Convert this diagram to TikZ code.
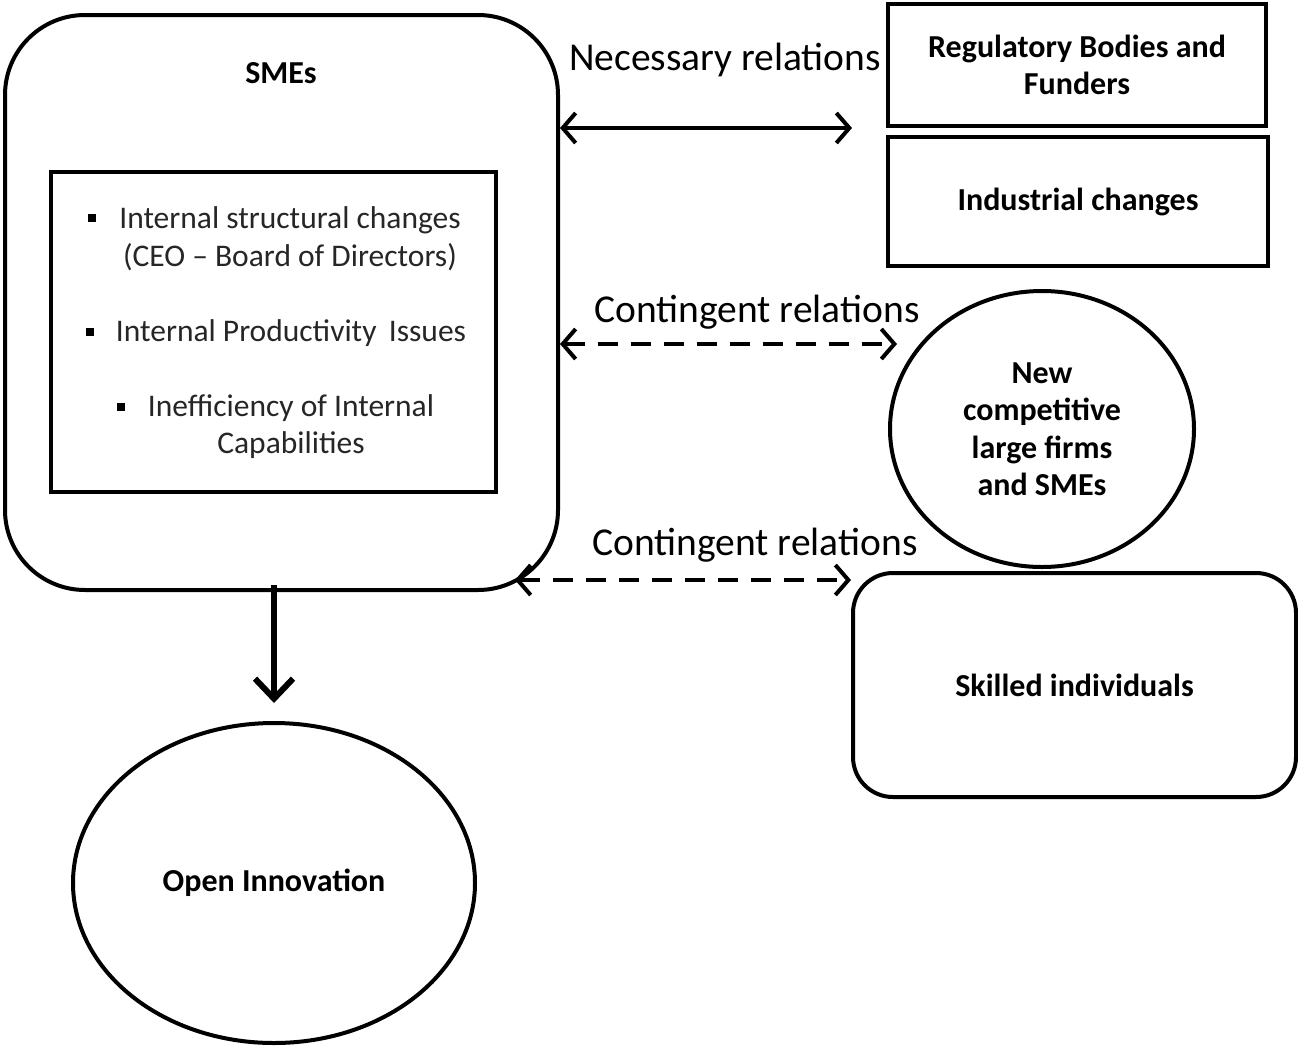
\documentclass[tikz,border=0pt]{standalone}
\usepackage{fontspec}
\setmainfont{Carlito}
\usetikzlibrary{arrows.meta,shapes.geometric}
\begin{document}
\begin{tikzpicture}[x=1pt,y=-1pt,
  frame/.style={draw=black,line width=4pt},
  lbl/.style={font=\fontsize{39.5}{44}\selectfont,inner sep=0pt},
  boxtxt/.style={font=\fontsize{32}{37.5}\selectfont\bfseries,align=center,inner sep=0pt},
  itemtxt/.style={font=\fontsize{31.5}{36}\selectfont,inner sep=0pt,text=black!85},
  bul/.style={fill=black,inner sep=0pt,minimum size=8pt},
  rel/.style={line width=4pt,{Straight Barb[length=13pt,width=30pt]}-{Straight Barb[length=13pt,width=30pt]}},
  dsh/.style={dash pattern=on 20pt off 13pt}
]
\useasboundingbox (0,0) rectangle (1298,1047);
\fill[white] (0,0) rectangle (1298,1047);

% SMEs container
\node[frame,rounded corners=80pt,minimum width=553pt,minimum height=575pt] (smes) at (281.5,302.5) {};
\node[boxtxt] (smesT) at (281,73) {SMEs};
\node[frame,minimum width=445pt,minimum height=320pt] (inner) at (273.5,332) {};

\node[bul] (b1) at (92,218) {};
\node[itemtxt] (t1a) at (290,220) {Internal structural changes};
\node[itemtxt] (t1b) at (290,257) {(CEO -- Board of Directors)};
\node[bul] (b2) at (90,332) {};
\node[itemtxt] (t2) at (291,333) {Internal Productivity\, Issues};
\node[bul] (b3) at (121,407) {};
\node[itemtxt] (t3a) at (291,408) {Inefficiency of Internal};
\node[itemtxt] (t3b) at (291,445) {Capabilities};

% right side boxes
\node[frame,minimum width=378pt,minimum height=122pt,boxtxt] (reg) at (1077,65) {Regulatory Bodies and\\Funders};
\node[frame,minimum width=380pt,minimum height=129pt,boxtxt] (ind) at (1078,201.5) {Industrial changes};
\node[frame,ellipse,minimum width=304pt,minimum height=276pt,boxtxt] (comp) at (1042,429) {New\\competitive\\large firms\\and SMEs};
\node[frame,rounded corners=40pt,minimum width=443pt,minimum height=224pt,boxtxt] (skill) at (1074.5,685) {Skilled individuals};

% Open innovation
\node[frame,ellipse,minimum width=402pt,minimum height=320pt,boxtxt] (open) at (274,883) {Open Innovation};

% relation labels
\node[lbl] (nec) at (725,60) {Necessary relations};
\node[lbl] (con1) at (757,312) {Contingent relations};
\node[lbl] (con2) at (755,545) {Contingent relations};

% connectors
\coordinate (necE) at (852,128);
\draw[rel] (smes.east |- necE) -- (necE);
\coordinate (c1E) at (897,344);
\draw[rel,dsh] (smes.east |- c1E) -- (c1E);
\coordinate (c2S) at (515,580);
\draw[rel,dsh] (c2S) -- (skill.west |- c2S);
\coordinate (downS) at (274,585);
\draw[line width=6pt,-{Straight Barb[length=20pt,width=38pt]},shorten >=18pt] (downS) -- (open.north);
\end{tikzpicture}
\end{document}
